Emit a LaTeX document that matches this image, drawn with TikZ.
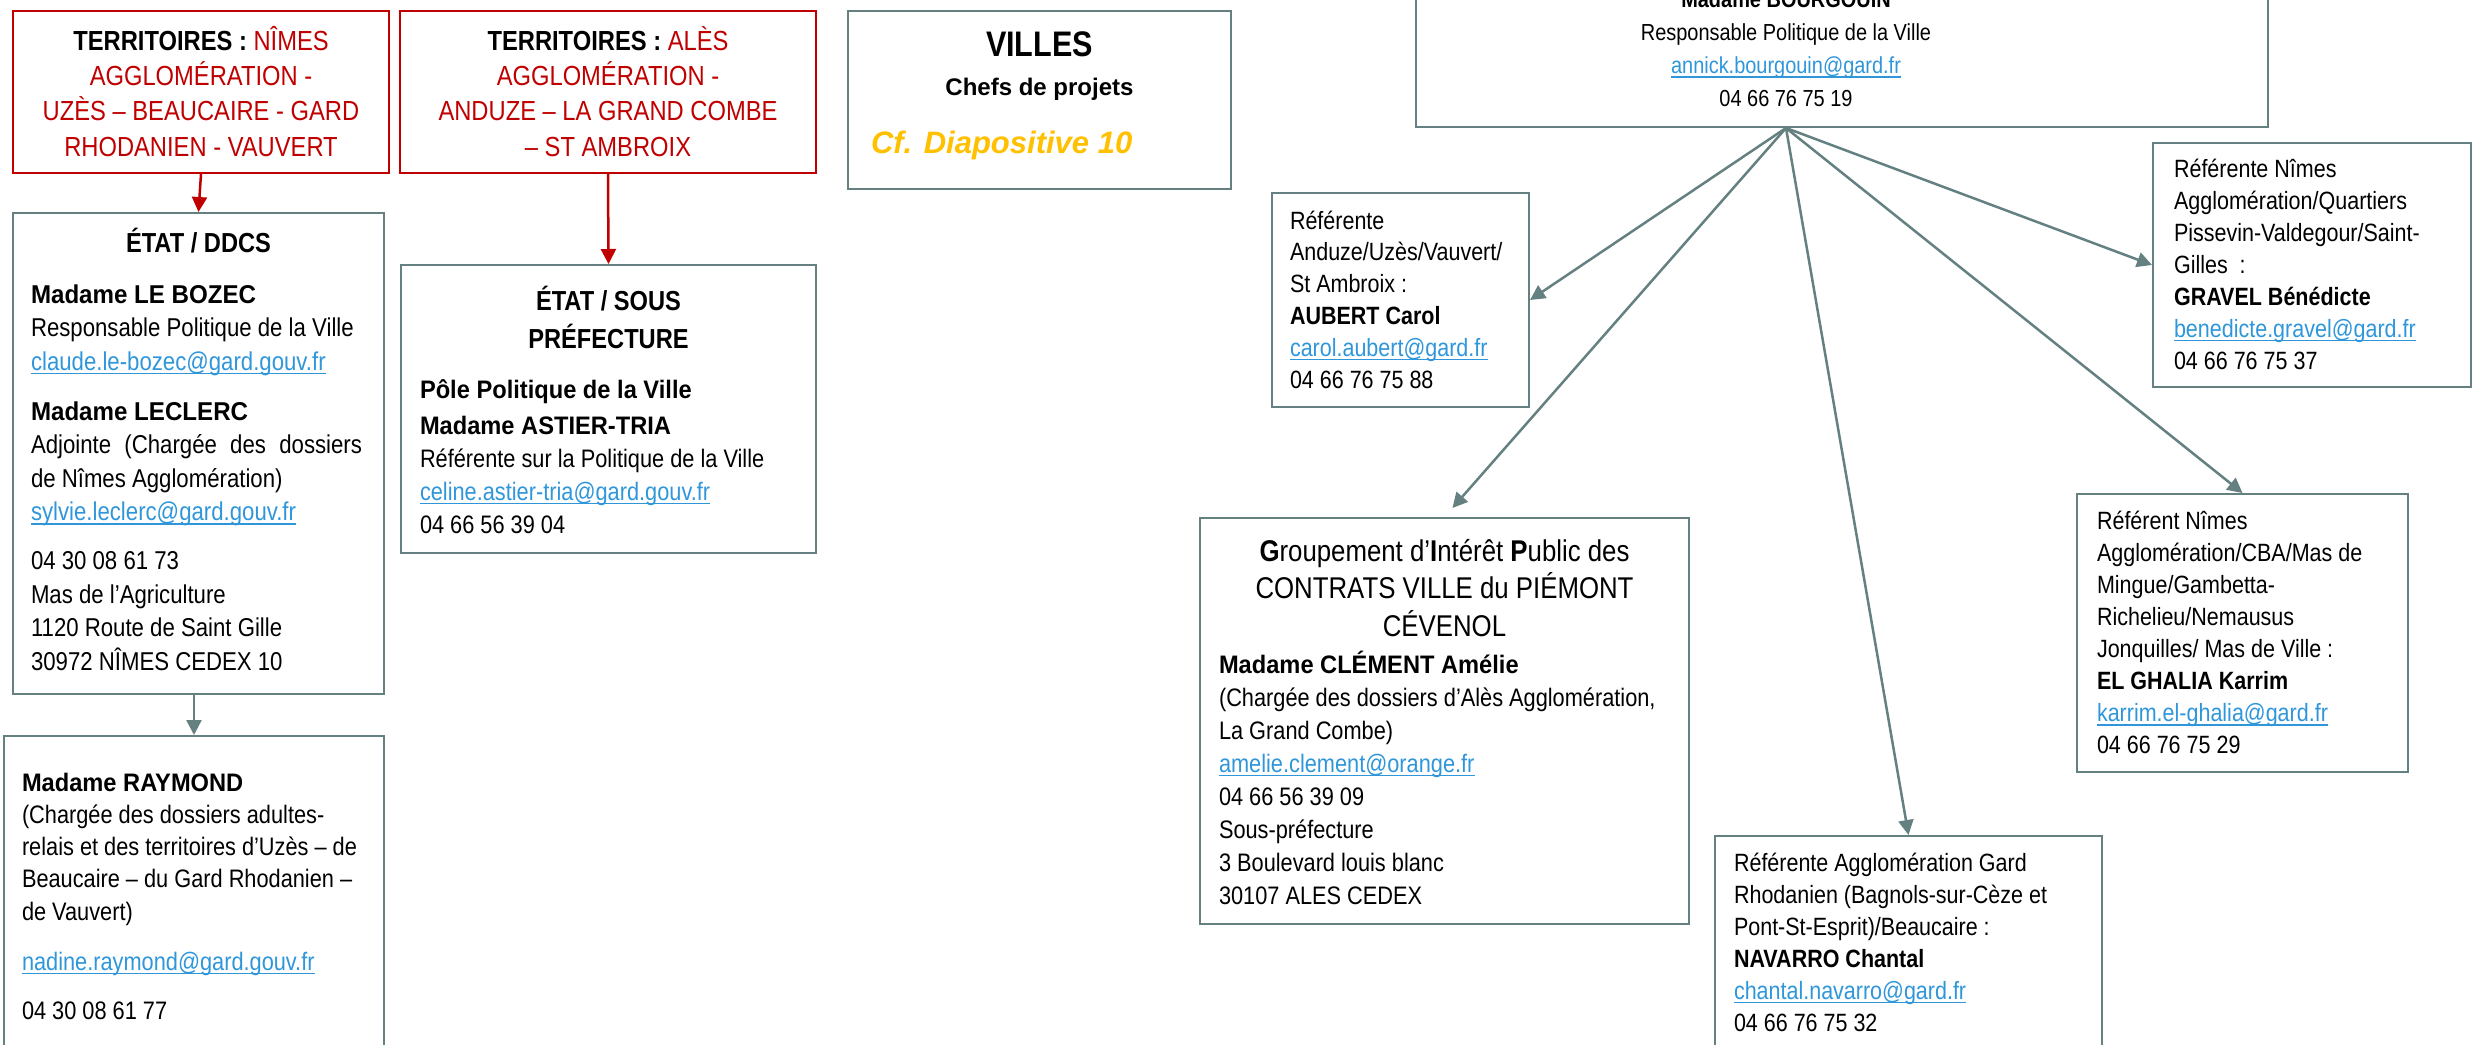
\documentclass[tikz,border=0pt]{standalone}
\usepackage{fontspec}
\setmainfont{Liberation Sans}[FakeStretch=0.86]
\newfontfamily\largesans{Liberation Sans}
\newfontfamily\grasfont{Liberation Sans}[FakeStretch=0.935]
\usetikzlibrary{positioning, arrows.meta}
\definecolor{gardred}{RGB}{192,0,0}
\definecolor{boxgrey}{RGB}{100,128,128}
\definecolor{linkblue}{RGB}{47,150,218}
\definecolor{villesgold}{RGB}{255,192,0}
\newcommand{\mel}[1]{\leavevmode{\color{linkblue}\setbox0\hbox{#1}\rlap{\rule[-4pt]{\wd0}{1.4pt}}\box0}}
\newcommand{\gras}[1]{{\grasfont\bfseries #1}}
\newcommand{\corps}{\fontsize{25.3}{33}\selectfont}
\newcommand{\corpsref}{\fontsize{25}{32}\selectfont}

\begin{document}
\begin{tikzpicture}[x=1pt, y=-1pt, >={Triangle[length=15pt, width=15pt]},
	cadre/.style={draw=boxgrey, line width=2pt, rectangle, anchor=north west, inner ysep=0pt, align=flush left, font=\corps},
	cadrerouge/.style={cadre, draw=gardred, text=gardred, align=flush center, inner xsep=10pt, font=\fontsize{27.6}{35.3}\selectfont},
	lien/.style={->, draw=boxgrey, line width=2.5pt},
	rouge/.style={->, draw=gardred, line width=2.5pt}]
	\useasboundingbox (0,0) rectangle (2478,1044);
	\clip (0,0) rectangle (2478,1044);

	% territoires
	\node[cadrerouge, text width=356pt, text height=39.3pt, text depth=122.7pt] (terrnimes) at (12,10) {\textbf{\color{black}TERRITOIRES :} NÎMES\\ AGGLOMÉRATION -\\ UZÈS – BEAUCAIRE - GARD\\ RHODANIEN - VAUVERT};
	\node[cadrerouge, text width=396pt, text height=39.3pt, text depth=122.7pt] (terrales) at (399,10) {\textbf{\color{black}TERRITOIRES :} ALÈS\\ AGGLOMÉRATION -\\ ANDUZE – LA GRAND COMBE\\ – ST AMBROIX};

	% etat
	\node[cadre, text width=335pt, inner xsep=18pt, text height=39pt, text depth=442pt, font=\fontsize{25.8}{33.5}\selectfont] (ddcs) at (12,212) {{\centering\fontsize{27.5}{33.5}\selectfont\bfseries ÉTAT / DDCS\par}\vspace{17.5pt}
		\gras{Madame LE BOZEC}\\
		Responsable Politique de la Ville\\
		\mel{claude.le-bozec@gard.gouv.fr}\\[16.5pt]
		\gras{Madame LECLERC}\\
		\noindent\hbox to 331pt{Adjointe\hfill(Chargée\hfill des\hfill dossiers}\\
		de Nîmes Agglomération)\\
		\mel{sylvie.leclerc@gard.gouv.fr}\\[15.5pt]
		04 30 08 61 73\\
		Mas de l’Agriculture\\
		1120 Route de Saint Gille\\
		30972 NÎMES CEDEX 10};
	\node[cadre, text width=344pt, inner xsep=18pt, text height=55pt, text depth=280pt, font=\fontsize{25.3}{32.3}\selectfont] (raymond) at (3,735) {\gras{Madame RAYMOND}\\
		(Chargée des dossiers adultes-\\
		relais et des territoires d’Uzès – de\\
		Beaucaire – du Gard Rhodanien –\\
		de Vauvert)\\[17.7pt]
		\mel{nadine.raymond@gard.gouv.fr}\\[16.7pt]
		04 30 08 61 77};
	\node[cadre, text width=377pt, inner xsep=19pt, text height=45pt, text depth=243pt] (souspref) at (400,264) {{\centering\fontsize{27.5}{38}\selectfont\bfseries ÉTAT / SOUS\\ PRÉFECTURE\par}\vspace{17pt}
		\gras{Pôle Politique de la Ville}\\[3pt]
		\gras{Madame ASTIER-TRIA}\\
		Référente sur la Politique de la Ville\\
		\mel{celine.astier-tria@gard.gouv.fr}\\
		04 66 56 39 04};

	% villes
	\node[cadre, text width=337pt, inner xsep=23pt, text height=45pt, text depth=133pt] (villes) at (847,10) {{\centering\fontsize{35.5}{39}\selectfont\bfseries VILLES\\ \largesans\fontsize{24}{39}\selectfont Chefs de projets\par}\vspace{18pt}
		{\largesans\fontsize{31}{40}\selectfont\bfseries\itshape\color{villesgold}Cf. Diapositive 10\par}};

	% politique de la ville
	\node[cadre, minimum width=852pt, minimum height=226pt, inner sep=0pt] (bourgouinbox) at (1415,-100) {};
	\node[font=\fontsize{23.2}{33}\selectfont, align=center, anchor=south, inner sep=0pt] (bourgouin) at (1786,107) {\textbf{Madame BOURGOUIN}\\ Responsable Politique de la Ville\\ \mel{annick.bourgouin@gard.fr}\\ 04 66 76 75 19};
	\coordinate (hub) at (bourgouin.south |- bourgouinbox.south);

	\node[cadre, text width=221pt, inner xsep=18pt, text height=36pt, text depth=178pt, font=\fontsize{25}{31.8}\selectfont] (aubert) at (1271,192) {Référente\\ Anduze/Uzès/Vauvert/\\ St Ambroix :\\ \textbf{AUBERT Carol}\\ \mel{carol.aubert@gard.fr}\\ 04 66 76 75 88};
	\node[cadre, text width=276pt, inner xsep=21pt, text height=34pt, text depth=210pt, font=\corpsref] (gravel) at (2152,142) {Référente Nîmes\\ Agglomération/Quartiers\\ Pissevin-Valdegour/Saint-\\ Gilles\ \ :\\ \textbf{GRAVEL Bénédicte}\\ \mel{benedicte.gravel@gard.fr}\\ 04 66 76 75 37};
	\node[cadre, text width=451pt, inner xsep=19pt, text height=43pt, text depth=363pt] (gip) at (1199,517) {{\centering\fontsize{30}{37.5}\selectfont \textbf{G}roupement d’\textbf{I}ntérêt \textbf{P}ublic des\\ CONTRATS VILLE du PIÉMONT\\ CÉVENOL\par}\vspace{4pt}
		\gras{Madame CLÉMENT Amélie}\\
		(Chargée des dossiers d’Alès Agglomération,\\
		La Grand Combe)\\
		\mel{amelie.clement@orange.fr}\\
		04 66 56 39 09\\
		Sous-préfecture\\
		3 Boulevard louis blanc\\
		30107 ALES CEDEX};
	\node[cadre, text width=291pt, inner xsep=20pt, text height=35pt, text depth=243pt, font=\fontsize{25}{32.1}\selectfont] (elghalia) at (2076,493) {Référent Nîmes\\ Agglomération/CBA/Mas de\\ Mingue/Gambetta-\\ Richelieu/Nemausus\\ Jonquilles/ Mas de Ville :\\ \textbf{EL GHALIA Karrim}\\ \mel{karrim.el-ghalia@gard.fr}\\ 04 66 76 75 29};
	\node[cadre, text width=349pt, inner xsep=19pt, text height=35pt, text depth=200pt, font=\corpsref] (navarro) at (1714,835) {Référente Agglomération Gard\\ Rhodanien (Bagnols-sur-Cèze et\\ Pont-St-Esprit)/Beaucaire :\\ \textbf{NAVARRO Chantal}\\ \mel{chantal.navarro@gard.fr}\\ 04 66 76 75 32};

	\draw[rouge] (terrnimes.south) -- (ddcs.north);
	\draw[rouge] (terrales.south) -- (souspref.north);
	\draw[lien] (ddcs.south -| raymond.north) -- (raymond.north);
	\draw[lien] (hub) -- (aubert.east);
	\draw[lien, shorten >=12pt] (hub) -- (gip.north);
	\draw[lien] (hub) -- (navarro.north);
	\draw[lien] (hub) -- (elghalia.north);
	\draw[lien] (hub) -- (gravel.west);
\end{tikzpicture}
\end{document}
